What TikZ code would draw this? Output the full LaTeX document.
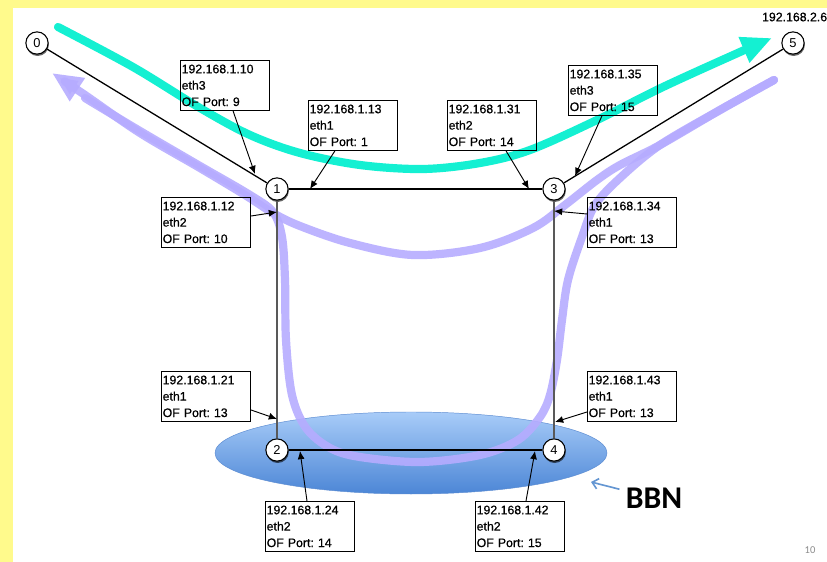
\documentclass[tikz,border=0pt]{standalone}
\usepackage{fontspec}
\setmainfont{Liberation Sans}
\newfontfamily\labelfont[FakeBold=0.7]{Liberation Sans}
\newfontfamily\slidefont{Carlito}
\usetikzlibrary{arrows.meta,shadows,calc}

\definecolor{slideyellow}{RGB}{255,250,140}
\definecolor{flowcyan}{RGB}{20,240,210}
\definecolor{flowviolet}{RGB}{182,172,255}
\definecolor{bbntop}{RGB}{168,204,248}
\definecolor{bbnbottom}{RGB}{76,134,214}
\definecolor{bbnrim}{RGB}{92,140,210}
\definecolor{bbnarrow}{RGB}{100,150,210}

\begin{document}
\frenchspacing
\begin{tikzpicture}[x=0.03cm,y=-0.03cm,
  router/.style={circle, draw=black, line width=0.9pt, fill=white,
    minimum size=19pt, inner sep=0pt, font=\fontsize{11}{11}\selectfont,
    drop shadow={shadow xshift=0.6pt, shadow yshift=-1.6pt, fill=black, opacity=0.6}},
  portbox/.style={draw=black, line width=0.9pt, anchor=north west, align=left,
    text width=74pt, inner xsep=1pt, inner ysep=3.5pt,
    font=\labelfont\fontsize{10.5}{14}\selectfont},
  link/.style={draw=black, line width=1.1pt},
  trunk/.style={draw=black!65, line width=1.8pt},
  pointer/.style={draw=black, line width=0.8pt, -{Latex[length=7pt,width=6pt]}},
  flow/.style={line width=7pt, line cap=round, line join=round},
]
\useasboundingbox (0,0) rectangle (827,562);

% slide frame
\fill[slideyellow] (0,0) rectangle (827,562);
\fill[white] (13,8) rectangle (827,562);

% backbone cloud
\shade[top color=bbntop, bottom color=bbnbottom, draw=bbnrim, line width=0.4pt]
  (411,453) ellipse [x radius=196, y radius=41];

% forward flow
\draw[flow, flowcyan, -{Triangle[length=26pt,width=22pt]}]
  plot[smooth, tension=0.55] coordinates {(58,27) (133,67) (200,108) (250,135) (300,153)
  (360,165) (423,169) (480,163) (530,150) (597,120) (663,87) (740,52) (772,38)};

% return flows
\draw[flow, flowviolet, opacity=0.9]
  plot[smooth, tension=0.55] coordinates {(774,80) (720,110) (660,145) (620,178) (595,205)
  (582,237) (568,280) (562,320) (557,360) (550,395) (540,417) (518,440) (480,455)
  (420,462) (360,457) (330,448) (306,428) (292,395) (286,340) (285,280) (282,237)
  (273,212) (250,195) (200,166) (140,131) (85,98)};
\draw[flow, flowviolet, opacity=0.9, -{Triangle[length=26pt,width=22pt]}]
  plot[smooth, tension=0.55] coordinates {(774,80) (720,110) (660,145) (620,165) (597,180)
  (565,205) (533,228) (480,248) (413,255) (350,243) (300,226) (273,213) (245,195)
  (200,168) (140,133) (85,95) (52,73)};

% switches and hosts
\node[router] (n0) at (37,43) {0};
\node[router] (n5) at (793,43) {5};
\node[router] (n1) at (277,189) {1};
\node[router] (n3) at (554,189) {3};
\node[router] (n2) at (277,450) {2};
\node[router] (n4) at (554,450) {4};

% links
\draw[link] (n0) -- (n1);
\draw[link] (n5) -- (n3);
\draw[link] (n1) -- (n3);
\draw[link] (n2) -- (n4);
\draw[trunk] (n1) -- (n2);
\draw[trunk] (n3) -- (n4);

\node[anchor=west, font=\labelfont\fontsize{10.5}{12}\selectfont] (ipfive) at (758,17) {192.168.2.6};

% interface labels
\node[portbox] (pA) at (180,60)  {192.168.1.10\\eth3\\OF Port: 9};
\node[portbox] (pB) at (308,100) {192.168.1.13\\eth1\\OF Port: 1};
\node[portbox] (pC) at (447,100) {192.168.1.31\\eth2\\OF Port: 14};
\node[portbox] (pD) at (568,65)  {192.168.1.35\\eth3\\OF Port: 15};
\node[portbox] (pE) at (161,197) {192.168.1.12\\eth2\\OF Port: 10};
\node[portbox] (pF) at (587,197) {192.168.1.34\\eth1\\OF Port: 13};
\node[portbox] (pG) at (161,371) {192.168.1.21\\eth1\\OF Port: 13};
\node[portbox] (pH) at (587,371) {192.168.1.43\\eth1\\OF Port: 13};
\node[portbox] (pI) at (265,501) {192.168.1.24\\eth2\\OF Port: 14};
\node[portbox] (pJ) at (475,501) {192.168.1.42\\eth2\\OF Port: 15};

% interface positions on the links
\coordinate (tA) at (255,174);
\coordinate (tB) at (310,189);
\coordinate (tC) at (529,189);
\coordinate (tD) at (575,176);
\coordinate (tE) at (277,212);
\coordinate (tF) at (554,211);
\coordinate (tG) at (277,419);
\coordinate (tH) at (555,422);
\coordinate (tI) at (300,451);
\coordinate (tJ) at (535,451);

\draw[pointer] ($(pA.south west)+(53,0)$) -- (tA);
\draw[pointer] ($(pB.south west)+(27,0)$) -- (tB);
\draw[pointer] ($(pC.south west)+(59,0)$) -- (tC);
\draw[pointer] ($(pD.south west)+(34,0)$) -- (tD);
\draw[pointer] ($(pE.north east)+(0,19)$) -- (tE);
\draw[pointer] ($(pF.north west)+(0,17)$) -- (tF);
\draw[pointer] ($(pG.north east)+(0,39)$) -- (tG);
\draw[pointer] ($(pH.north west)+(0,41)$) -- (tH);
\draw[pointer] ($(pI.north west)+(42,0)$) -- (tI);
\draw[pointer] ($(pJ.north west)+(51,0)$) -- (tJ);

% backbone label
\node[font=\slidefont\bfseries\fontsize{27}{30}\selectfont] (bbn) at (654,498) {BBN};
\coordinate (bbntip) at (591,482);
\draw[bbnarrow, line width=1.4pt, shorten <=2pt, -{Straight Barb[length=5pt,width=9pt]}] (bbn) -- (bbntip);

\node[font=\slidefont\fontsize{9}{10}\selectfont, text=black!45] (pagenum) at (810,550) {10};
\end{tikzpicture}
\end{document}
